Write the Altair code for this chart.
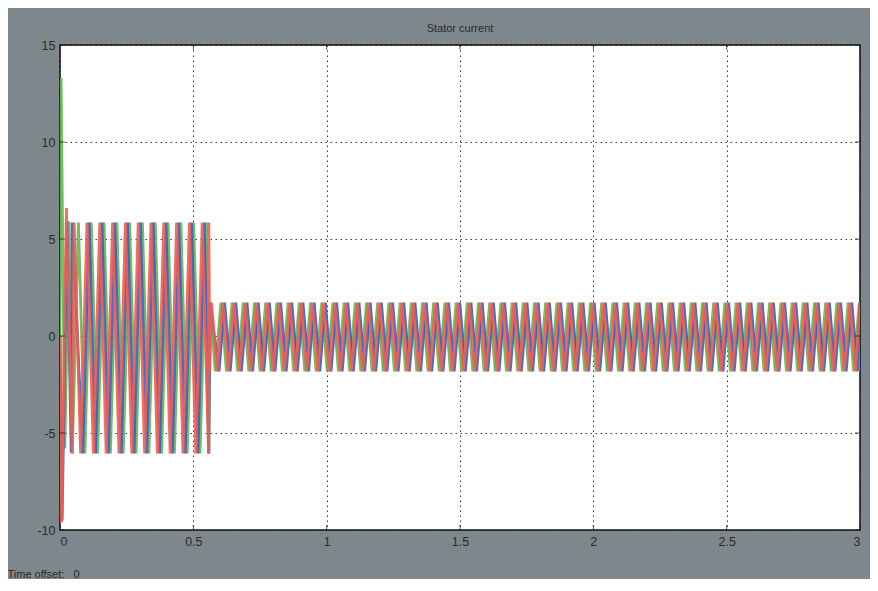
import altair as alt
import pandas as pd

# ---------------- data ----------------
phase_names = ["green", "blue", "red"]            # drawing order (red ends on top)
phase_colors = ["#62b84c", "#3b5cc8", "#ef5e52"]
phase_shift = [1 / 3, 2 / 3, 0.0]                 # offset of each phase, fraction of a period

# start-up transient extremes (time s, current A) for each phase
transient_t = [
    [0.0, 0.004, 0.018, 0.034],
    [0.0, 0.008, 0.026, 0.042],
    [0.0, 0.006, 0.024],
]
transient_v = [
    [0.0, 13.3, -5.8, 5.9],
    [0.0, -9.5, 5.9, -6.0],
    [0.0, -9.6, 6.6],
]

# two regimes of the scope trace: envelope and apparent stripe period
regime_start = [0.046, 0.562]
regime_end = [0.558, 3.0]
regime_top = [5.85, 1.72]
regime_bottom = [-6.05, -1.82]
regime_period = [0.048, 0.042]

x_ticks = [0, 0.5, 1, 1.5, 2, 2.5, 3]
y_ticks = [-10, -5, 0, 5, 10, 15]

# ---------------- build the line vertices ----------------
rows = []
for p, name in enumerate(phase_names):
    for t, v in zip(transient_t[p], transient_v[p]):
        rows.append((name, t, v))
    last_v = transient_v[p][-1]
    for r in range(len(regime_start)):
        half = regime_period[r] / 2
        # junction vertex right at the start of the regime
        v = regime_bottom[r] if last_v > 0 else regime_top[r]
        rows.append((name, regime_start[r], v))
        last_v = v
        t = regime_start[r] + (phase_shift[p] + 0.15) * regime_period[r]
        while t < regime_end[r]:
            v = regime_bottom[r] if last_v > 0 else regime_top[r]
            rows.append((name, round(t, 5), v))
            last_v = v
            t += half
        v = regime_bottom[r] if last_v > 0 else regime_top[r]
        rows.append((name, regime_end[r], v))
        last_v = v
df = pd.DataFrame(rows, columns=["phase", "t", "current"])
xt = pd.DataFrame({"t": x_ticks})
yt = pd.DataFrame({"current": y_ticks})

FONT = "Liberation Sans"
LABEL = "#2a2a2a"

X = alt.X(
    "t:Q",
    scale=alt.Scale(domain=[0, 3], nice=False, zero=False),
    axis=alt.Axis(
        values=x_ticks,
        labelExpr="'' + datum.value",
        title="Time offset:\u00a0\u00a0 0",
        titleX=-53,
        titleY=44,
        titleAlign="left",
        titleBaseline="middle",
        titleFont=FONT,
        titleFontSize=11,
        titleFontWeight="normal",
        titleColor=LABEL,
        labelPadding=5,
    ),
)
Y = alt.Y(
    "current:Q",
    scale=alt.Scale(domain=[-10, 15], nice=False, zero=False),
    axis=alt.Axis(values=y_ticks, labelExpr="'' + datum.value", title=None, labelPadding=5),
)

layers = []
for name, color in zip(phase_names, phase_colors):
    layers.append(
        alt.Chart(df)
        .transform_filter(alt.datum.phase == name)
        .mark_line(color=color, strokeWidth=2.8, strokeJoin="bevel", opacity=0.9, clip=True)
        .encode(x=X, y=Y)
    )

tick_style = dict(color="#111", thickness=1, size=10, clip=True)
layers += [
    alt.Chart(xt).mark_tick(orient="vertical", **tick_style).encode(x=X, y=alt.value(0)),
    alt.Chart(xt).mark_tick(orient="vertical", **tick_style).encode(x=X, y=alt.value(485)),
    alt.Chart(yt).mark_tick(orient="horizontal", **tick_style).encode(y=Y, x=alt.value(0)),
    alt.Chart(yt).mark_tick(orient="horizontal", **tick_style).encode(y=Y, x=alt.value(800)),
]

chart = (
    alt.layer(*layers)
    .properties(
        width=800,
        height=485,
        title=alt.TitleParams(
            "Stator current",
            font=FONT,
            fontSize=11,
            fontWeight="normal",
            color=LABEL,
            anchor="middle",
            offset=5,
        ),
        autosize=alt.AutoSizeParams(type="none"),
        padding={"left": 52, "top": 37, "right": 10, "bottom": 49},
        background="#7e888c",
    )
    .configure_view(fill="white", stroke="#111", strokeWidth=1.5)
    .configure_axis(
        labelFont=FONT,
        labelFontSize=12.5,
        labelColor=LABEL,
        grid=True,
        gridColor="#222",
        gridDash=[1.5, 3.5],
        gridWidth=1,
        gridOpacity=0.9,
        ticks=False,
        domain=False,
        zindex=1,
    )
)

chart.save("out.html", embed_options={"renderer": "svg", "actions": False})
